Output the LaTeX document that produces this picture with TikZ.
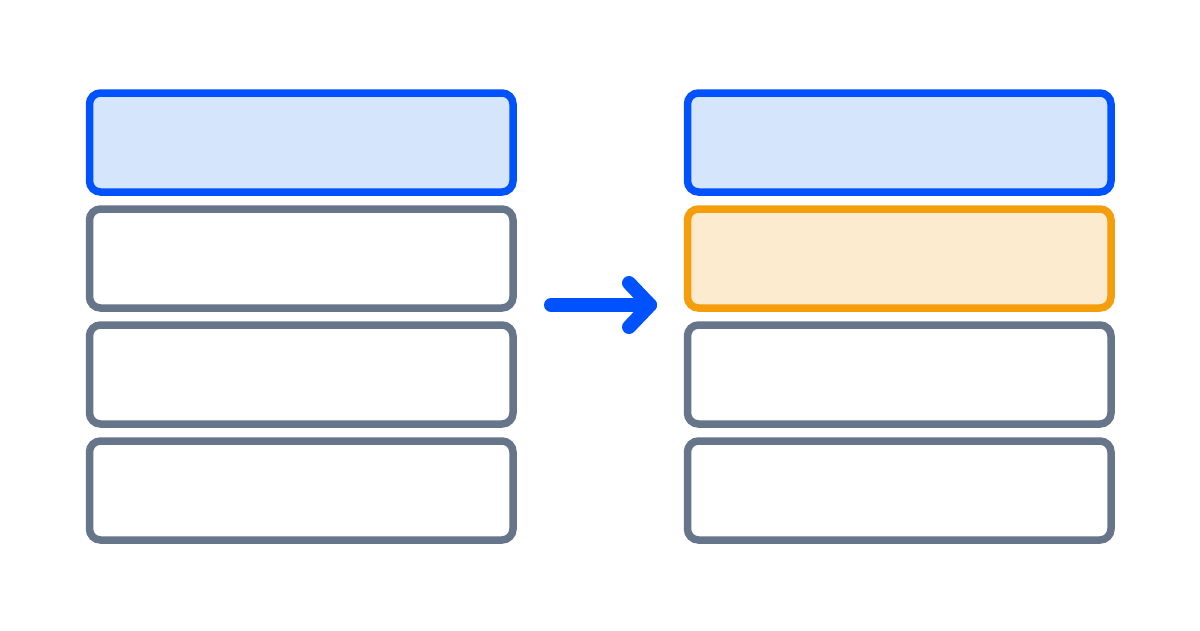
\documentclass[tikz,border=0pt]{standalone}
\begin{document}
\begin{tikzpicture}[x=1pt,y=-1pt,
  box/.style={line width=7.5pt,rounded corners=11pt},
  bluebox/.style={box,draw=cblue,fill=cbluefill},
  graybox/.style={box,draw=cgray,fill=white},
  orangebox/.style={box,draw=corange,fill=corangefill},
  arr/.style={draw=cblue,line width=14pt,line cap=round,line join=round}]
\definecolor{cblue}{HTML}{0052FF}
\definecolor{cbluefill}{HTML}{D4E5FC}
\definecolor{cgray}{HTML}{66758A}
\definecolor{corange}{HTML}{F59E0B}
\definecolor{corangefill}{HTML}{FDEBD0}
\useasboundingbox[fill=white] (0,0) rectangle (1200,630);
\draw[bluebox] (89.5,93) rectangle (513,192);
\draw[graybox] (89.5,209) rectangle (513,308);
\draw[graybox] (89.5,325) rectangle (513,424);
\draw[graybox] (89.5,441) rectangle (513,540);
\draw[bluebox] (687.5,93) rectangle (1111,192);
\draw[orangebox] (687.5,209) rectangle (1111,308);
\draw[graybox] (687.5,325) rectangle (1111,424);
\draw[graybox] (687.5,441) rectangle (1111,540);
\coordinate (a1) at (551,305);
\coordinate (a2) at (650,305);
\coordinate (h1) at (629,283);
\coordinate (h2) at (629,327);
\draw[arr] (a1) -- (a2);
\draw[arr] (h1) -- (a2) -- (h2);
\end{tikzpicture}
\end{document}
